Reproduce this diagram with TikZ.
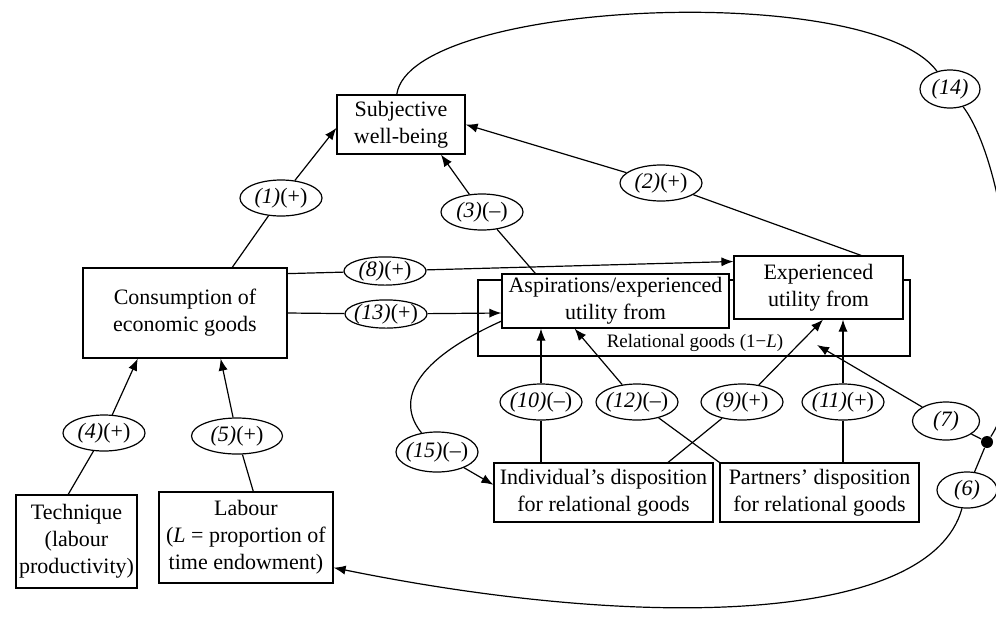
\documentclass[tikz,border=0pt]{standalone}
\usepackage{fontspec}
\setmainfont{Liberation Serif}
\usetikzlibrary{shapes,arrows.meta,positioning}
\tikzstyle{block} = [rectangle, draw, fill=white, align=center, inner sep=1pt]
\tikzstyle{effect} = [ellipse, draw, fill=white, inner xsep=-2pt, inner ysep=0pt, minimum width=41pt, minimum height=18pt]
\tikzstyle{junction} = [circle, fill, inner sep=0pt, minimum size=6pt]

\begin{document}
\begin{tikzpicture}[x=0.5pt,y=-0.5pt,line width=0.6pt,>={Latex[length=6pt,width=4.6pt]},font=\fontsize{11}{13.5}\selectfont]
    \useasboundingbox (0,0) rectangle (996,623);
    \clip (0,0) rectangle (996,623);

    \node [block, minimum width=64pt, minimum height=29.5pt] (swb) at (401,124.5) {Subjective\\well-being};
    \node [block, minimum width=102pt, minimum height=45pt] (cons) at (185,313) {Consumption of\\economic goods};
    \node [block, minimum width=60.5pt, minimum height=46.5pt] (tech) at (76.5,541.5) {Technique\\(labour\\productivity)};
    \node [block, minimum width=87pt, minimum height=45.5pt] (labour) at (246,537.5) {Labour\\(\textit{L} = proportion of\\time endowment)};
    \node [rectangle, draw, minimum width=216pt, minimum height=38pt] (relgoods) at (694,318) {};
    \node [font=\fontsize{9.5}{11}\selectfont] (reltext) at (695,343) {Relational goods (1−\textit{L})};
    \node [block, minimum width=113.5pt, minimum height=27pt] (aspir) at (615.5,301) {Aspirations/experienced\\utility from};
    \node [block, minimum width=84.5pt, minimum height=31.5pt] (expu) at (818.5,287.5) {Experienced\\utility from};
    \node [block, minimum width=109.5pt, minimum height=29.5pt] (indiv) at (603.5,492.5) {Individual’s disposition\\for relational goods};
    \node [block, minimum width=99.5pt, minimum height=29.5pt] (partn) at (819.5,492.5) {Partners’ disposition\\for relational goods};
    \coordinate (rgtip) at (817,345);

    \node [effect] (e1) at (281,198) {\textit{(1)}(+)};
    \node [effect] (e2) at (661,183) {\textit{(2)}(+)};
    \node [effect] (e3) at (482,212) {\textit{(3)}(–)};
    \node [effect] (e4) at (104,433) {\textit{(4)}(+)};
    \node [effect, minimum width=45.5pt] (e5) at (237,436) {\textit{(5)}(+)};
    \node [effect, minimum height=14pt] (e8) at (385,271) {\textit{(8)}(+)};
    \node [effect, minimum height=14pt] (e13) at (386,314) {\textit{(13)}(+)};
    \node [effect] (e10) at (541,402) {\textit{(10)}(–)};
    \node [effect] (e12) at (637,402) {\textit{(12)}(–)};
    \node [effect] (e9) at (742,402) {\textit{(9)}(+)};
    \node [effect] (e11) at (843,402) {\textit{(11)}(+)};
    \node [effect, minimum height=20pt] (e15) at (437,452) {\textit{(15)}(–)};
    \node [effect, minimum width=30pt, minimum height=19pt] (e14) at (950,89) {\textit{(14)}};
    \node [effect, minimum width=33.5pt, minimum height=19pt] (e7) at (946,421) {\textit{(7)}};
    \node [effect, minimum width=30pt] (e6) at (967,490) {\textit{(6)}};
    \node [junction] (dot) at (987,442) {};

    \draw (cons.44) -- (e1);
    \draw[->] (e1) -- (swb.183);
    \draw (expu.37) -- (e2);
    \draw[->] (e2) -- (swb.east);
    \draw (aspir.161) -- (e3);
    \draw[->] (e3) -- (swb.323);
    \draw (tech.100) -- (e4);
    \draw[->] (e4) -- (cons.224);
    \draw (labour.81) -- (e5);
    \draw[->] (e5) -- (cons.308);
    \draw (cons.21) -- (e8);
    \draw[->] (e8) -- (expu.163);
    \draw (cons.east) -- (e13);
    \draw[->] (e13) -- (aspir.186);
    \draw (e10) -- (e10 |- indiv.north);
    \draw[->] (e10) -- (e10 |- aspir.south);
    \draw (e11) -- (e11 |- partn.north);
    \draw[->] (e11) -- (e11 |- expu.south);
    \draw (partn.north west) -- (e12);
    \draw[->] (e12) -- (aspir.214);
    \draw (indiv.25) -- (e9);
    \draw[->] (e9) -- (expu.278);
    \draw (aspir.190) .. controls (415,360) and (395,400) .. (e15);
    \draw[->] (e15) -- (indiv.176);
    \draw (swb.98) .. controls (410,0) and (870,-20) .. (e14);
    \draw (e14) .. controls (1010,170) and (1030,380) .. (dot);
    \draw (dot) -- (e7);
    \draw[->] (e7) -- (rgtip);
    \draw (dot) -- (e6);
    \draw[->] (e6) .. controls (930,625) and (640,630) .. (labour.341);
\end{tikzpicture}
\end{document}
